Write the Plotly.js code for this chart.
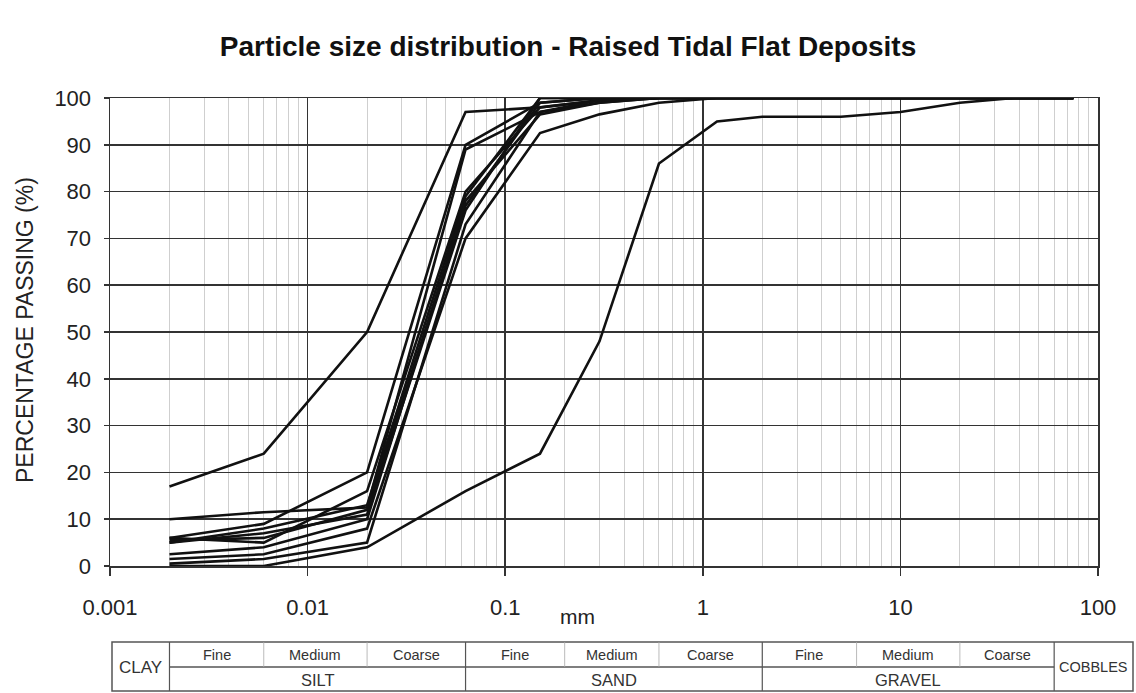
<!DOCTYPE html>
<html>
<head>
<meta charset="utf-8">
<script src="https://cdn.plot.ly/plotly-3.0.1.min.js"></script>
<style>
html,body{margin:0;padding:0;background:#fff;}
#chart{width:1136px;height:693px;}
</style>
</head>
<body>
<div id="chart"></div>
<script>
// Sieve sizes (mm)
var sieveSizes = [0.002, 0.006, 0.02, 0.063, 0.15, 0.3, 0.6, 1.18, 2, 5, 10, 20, 37.5, 75];

// Percentage passing for each sample
var sample1  = [17, 24, 50, 97, 98, 99.5, 100, 100, 100, 100, 100, 100, 100, 100];
var sample2  = [10, 11.5, 12.5, 89, 97, 99, 100, 100, 100, 100, 100, 100, 100, 100];
var sample3  = [6, 9, 20, 90, 99, 100, 100, 100, 100, 100, 100, 100, 100, 100];
var sample4  = [6, 5, 16, 80, 98, 99.5, 100, 100, 100, 100, 100, 100, 100, 100];
var sample5  = [5, 8, 13, 79, 100, 100, 100, 100, 100, 100, 100, 100, 100, 100];
var sample6  = [5.5, 6, 12, 77, 99, 100, 100, 100, 100, 100, 100, 100, 100, 100];
var sample7  = [5, 7, 11, 76, 100, 100, 100, 100, 100, 100, 100, 100, 100, 100];
var sample8  = [2.5, 4, 10, 78, 96.5, 99, 100, 100, 100, 100, 100, 100, 100, 100];
var sample9  = [1.5, 2.5, 8, 70, 92.5, 96.5, 99, 100, 100, 100, 100, 100, 100, 100];
var sample10 = [0.5, 1.5, 5, 73, 97, 99.5, 100, 100, 100, 100, 100, 100, 100, 100];
var sample11 = [0, 0, 4, 16, 24, 48, 86, 95, 96, 96, 97, 99, 100, 100];

var samples = [sample1, sample2, sample3, sample4, sample5, sample6, sample7, sample8, sample9, sample10, sample11];

// Axis tick labels
var xTickVals = [0.001, 0.01, 0.1, 1, 10, 100];
var xTickText = ['0.001', '0.01', '0.1', '1', '10', '100'];

// Classification table
var classBounds = [0.002, 0.006, 0.02, 0.063, 0.2, 0.6, 2, 6, 20, 60];
var subLabels = ['Fine', 'Medium', 'Coarse', 'Fine', 'Medium', 'Coarse', 'Fine', 'Medium', 'Coarse'];
var mainLabels = ['SILT', 'SAND', 'GRAVEL'];

var traces = samples.map(function (s) {
  return {
    x: sieveSizes, y: s, type: 'scatter', mode: 'lines',
    line: {color: '#111', width: 2.6}, hoverinfo: 'x+y', showlegend: false
  };
});

// geometry helpers (plot area: left 110, right 1098, top 98, bottom 566)
var L = 110, R = 1098, T = 98, B = 566;
function xp(v) { return (Math.log10(v) + 3) / 5; }          // mm -> paper x
function pxX(px) { return (px - L) / (R - L); }               // pixel -> paper x
function pxY(py) { return (B - py) / (B - T); }               // pixel -> paper y

var tTop = pxY(642), tMid = pxY(667), tBot = pxY(691);
var tLeft = pxX(112), tRight = pxX(1133);
var shapes = [];
var borderCol = '#555';
shapes.push({type: 'rect', xref: 'paper', yref: 'paper', x0: tLeft, x1: tRight, y0: tBot, y1: tTop, line: {color: borderCol, width: 1.5}});
shapes.push({type: 'line', xref: 'paper', yref: 'paper', x0: xp(classBounds[0]), x1: xp(classBounds[9]), y0: tMid, y1: tMid, line: {color: borderCol, width: 1.5}});
var majorIdx = [0, 3, 6, 9];
classBounds.forEach(function (b, i) {
  var major = majorIdx.indexOf(i) >= 0;
  shapes.push({type: 'line', xref: 'paper', yref: 'paper', x0: xp(b), x1: xp(b),
    y0: major ? tBot : tMid, y1: tTop,
    line: {color: major ? borderCol : '#aaa', width: major ? 1.2 : 0.8}});
});

var tfont = 'Liberation Sans Narrow, Liberation Sans, Arial, sans-serif';
var annotations = [];
for (var i = 0; i < subLabels.length; i++) {
  var c = Math.sqrt(classBounds[i] * classBounds[i + 1]);
  annotations.push({xref: 'paper', yref: 'paper', x: xp(c), y: pxY(655), text: subLabels[i], showarrow: false,
    xanchor: 'center', yanchor: 'middle', font: {family: tfont, size: 14.5, color: '#333'}});
}
for (var j = 0; j < mainLabels.length; j++) {
  var c2 = Math.sqrt(classBounds[j * 3] * classBounds[j * 3 + 3]);
  annotations.push({xref: 'paper', yref: 'paper', x: xp(c2), y: pxY(680), text: mainLabels[j], showarrow: false,
    xanchor: 'center', yanchor: 'middle', font: {family: tfont, size: 16.5, color: '#333'}});
}
annotations.push({xref: 'paper', yref: 'paper', x: (tLeft + xp(classBounds[0])) / 2, y: pxY(667), text: 'CLAY', showarrow: false,
  xanchor: 'center', yanchor: 'middle', font: {family: tfont, size: 17, color: '#333'}});
annotations.push({xref: 'paper', yref: 'paper', x: (tRight + xp(classBounds[9])) / 2, y: pxY(667), text: 'COBBLES', showarrow: false,
  xanchor: 'center', yanchor: 'middle', font: {family: tfont, size: 14.5, color: '#333'}});
// axis titles
annotations.push({xref: 'paper', yref: 'paper', x: pxX(577), y: pxY(616), text: 'mm', showarrow: false,
  xanchor: 'center', yanchor: 'middle', font: {family: 'Liberation Sans, Arial, sans-serif', size: 21, color: '#222'}});
annotations.push({xref: 'paper', yref: 'paper', x: pxX(25), y: pxY(330), text: 'PERCENTAGE PASSING (%)', showarrow: false,
  textangle: -90, xanchor: 'center', yanchor: 'middle', font: {family: 'Liberation Sans, Arial, sans-serif', size: 23, color: '#222'}});

var layout = {
  width: 1136, height: 693,
  margin: {l: L, r: 1136 - R, t: T, b: 693 - B, pad: 0},
  paper_bgcolor: '#fff', plot_bgcolor: '#fff',
  font: {family: 'Liberation Sans, Arial, sans-serif', size: 18, color: '#222'},
  title: {text: '<b>Particle size distribution - Raised Tidal Flat Deposits</b>', x: 0.5, xref: 'container', xanchor: 'center',
    y: 1 - 46 / 693, yref: 'container', yanchor: 'middle',
    font: {family: 'Liberation Sans, Arial, sans-serif', size: 28, color: '#111'}},
  xaxis: {
    type: 'log', range: [-3, 2], tickvals: xTickVals, ticktext: xTickText,
    ticks: 'outside', ticklen: 8, tickwidth: 1.5, tickcolor: '#333', ticklabelstandoff: 13,
    showgrid: true, gridcolor: '#333', gridwidth: 1.5,
    showline: true, linecolor: '#333', linewidth: 1.5, mirror: true, zeroline: false,
    minor: {dtick: 'D1', showgrid: true, gridcolor: '#cfcfcf', gridwidth: 1, ticks: ''},
    tickfont: {size: 22, color: '#222'}
  },
  yaxis: {
    range: [0, 100], dtick: 10, ticks: 'outside', ticklen: 5, tickwidth: 1.5, tickcolor: '#333', ticklabelstandoff: 8,
    showgrid: true, gridcolor: '#333', gridwidth: 1.5,
    showline: true, linecolor: '#333', linewidth: 1.5, mirror: true, zeroline: false,
    tickfont: {size: 22, color: '#222'}
  },
  shapes: shapes,
  annotations: annotations
};

Plotly.newPlot('chart', traces, layout, {displayModeBar: false, staticPlot: true});
</script>
</body>
</html>
